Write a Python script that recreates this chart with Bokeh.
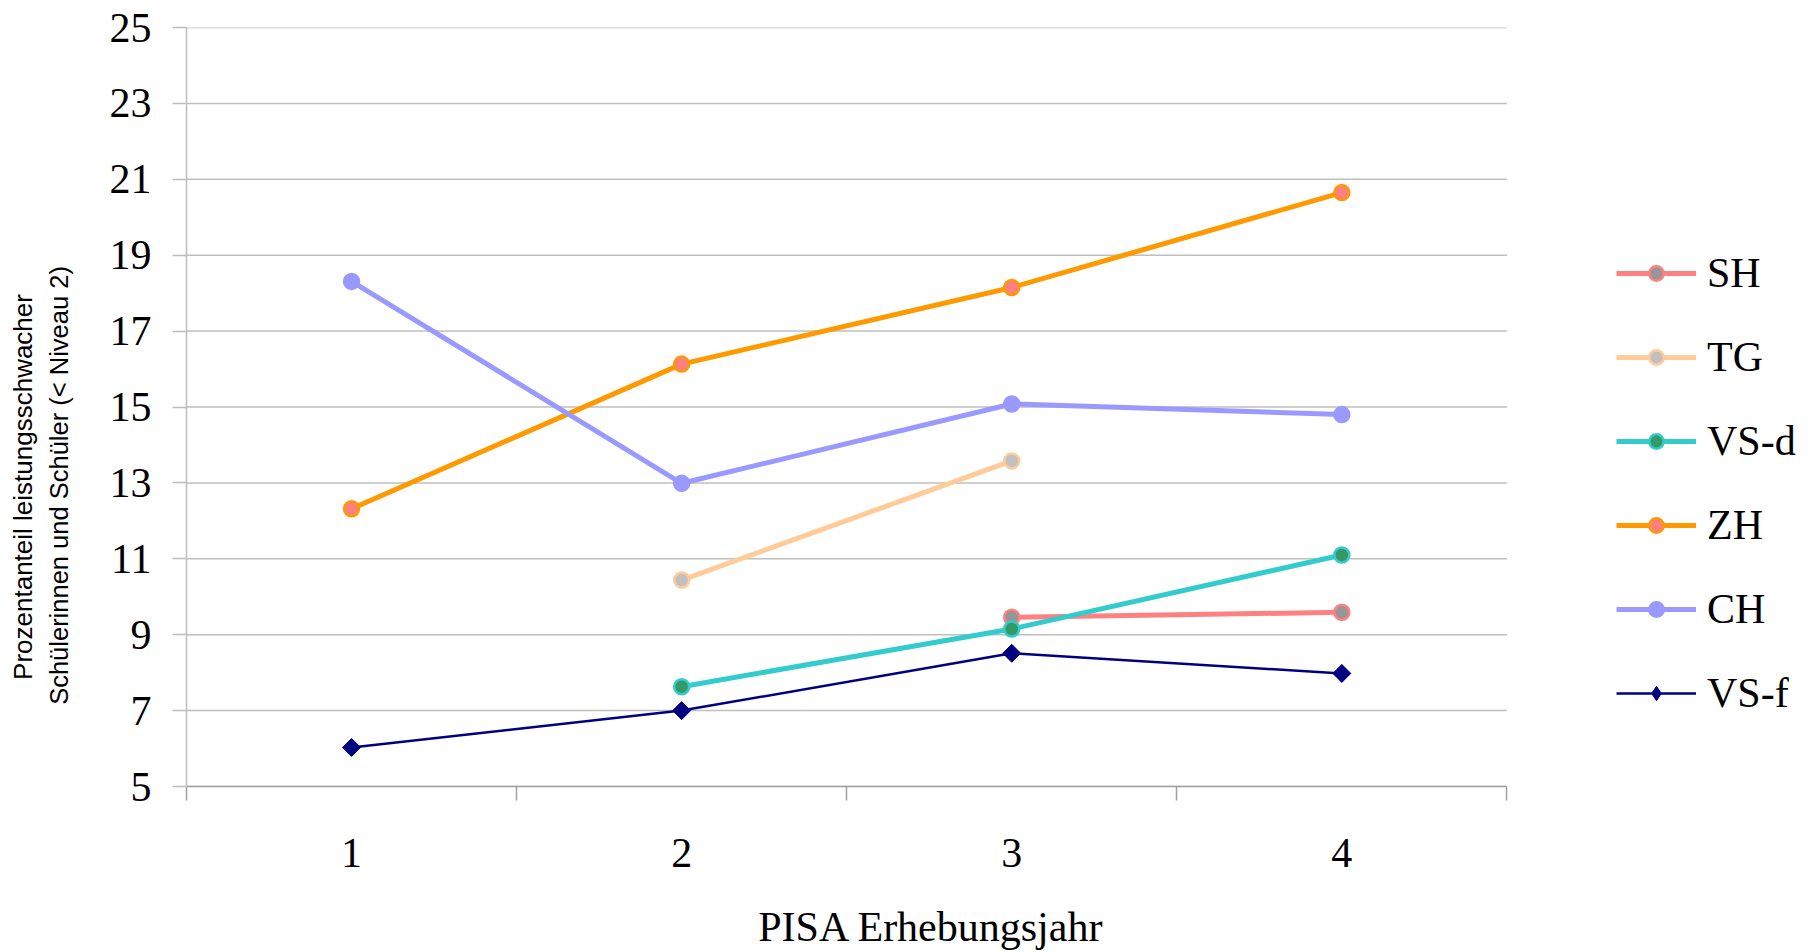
import math
from bokeh.plotting import figure
from bokeh.models import (Range1d, FixedTicker, Legend, LegendItem, LinearAxis,
                          CustomJSTickFormatter, ColumnDataSource)
from bokeh.embed import file_html
from bokeh.resources import INLINE

nan = float("nan")

# ---- data ----
years = [1, 2, 3, 4]
x_tick_labels = ["1", "2", "3", "4"]
y_ticks = [5, 7, 9, 11, 13, 15, 17, 19, 21, 23, 25]
series_names = ["SH", "TG", "VS-d", "ZH", "CH", "VS-f"]
sh = [nan, nan, 9.46, 9.59]
tg = [nan, 10.44, 13.58, nan]
vs_d = [nan, 7.63, 9.15, 11.10]
zh = [12.32, 16.13, 18.15, 20.65]
ch = [18.31, 12.99, 15.08, 14.80]
vs_f = [6.03, 7.00, 8.51, 7.98]

x_title = "PISA Erhebungsjahr"
y_title_1 = "Prozentanteil leistungsschwacher"
y_title_2 = "Schülerinnen und Schüler (< Niveau 2)"

SERIF = "Liberation Serif"
SANS = "Liberation Sans"

# ---- layout (pixels) ----
W, H = 1810, 952
LEFT, TOP, BOTTOM = 186, 27, 166
UNIT = 330.1                      # px per category
X0, X1 = 0.5, 4.5                 # category extent
x_end = X0 + (W - LEFT) / UNIT    # frame extends under the legend

p = figure(width=W, height=H, output_backend="svg", toolbar_location=None,
           x_range=Range1d(X0, x_end), y_range=Range1d(5, 25),
           min_border_left=LEFT, min_border_top=TOP,
           min_border_right=0, min_border_bottom=BOTTOM)
p.outline_line_color = None
p.background_fill_color = "white"
p.border_fill_color = "white"
p.xgrid.visible = False
p.ygrid.visible = False

# horizontal grid lines limited to the category area
gsrc = ColumnDataSource(dict(x0=[X0] * len(y_ticks), x1=[X1] * len(y_ticks),
                             y=y_ticks))
p.segment(x0="x0", y0="y", x1="x1", y1="y", source=gsrc,
          line_color="#BFBFBF", line_width=1.5)

# main y axis
ya = p.yaxis[0]
ya.ticker = FixedTicker(ticks=y_ticks, minor_ticks=[])
ya.axis_line_color = "#BDBDBD"
ya.axis_line_width = 1.5
ya.major_tick_line_color = "#BDBDBD"
ya.major_tick_line_width = 1.5
ya.major_tick_out = 14
ya.major_tick_in = 0
ya.minor_tick_line_color = None
ya.major_label_standoff = 21
ya.major_label_text_font = SERIF
ya.major_label_text_font_size = "42px"
ya.major_label_text_color = "black"

# main x axis
xa = p.xaxis[0]
xa.bounds = (X0, X1)
xa.ticker = FixedTicker(ticks=years, minor_ticks=[0.5, 1.5, 2.5, 3.5, 4.5])
xa.major_label_overrides = {y: l for y, l in zip(years, x_tick_labels)}
xa.axis_line_color = "#A0A0A0"
xa.axis_line_width = 1.5
xa.major_tick_line_color = None
xa.major_tick_out = 0
xa.major_tick_in = 0
xa.minor_tick_line_color = "#A0A0A0"
xa.minor_tick_line_width = 1.5
xa.minor_tick_out = 14
xa.minor_tick_in = 0
xa.major_label_standoff = 38
xa.major_label_text_font = SERIF
xa.major_label_text_font_size = "42px"
xa.major_label_text_color = "black"


def title_axis(text, pos, font, size, standoff, orientation):
    ax = LinearAxis(ticker=FixedTicker(ticks=[pos], minor_ticks=[]),
                    formatter=CustomJSTickFormatter(args=dict(t=text), code="return t"))
    ax.axis_line_color = None
    ax.major_tick_line_color = None
    ax.minor_tick_line_color = None
    ax.major_tick_out = 0
    ax.major_tick_in = 0
    ax.major_label_standoff = standoff
    ax.major_label_orientation = orientation
    ax.major_label_text_font = font
    ax.major_label_text_font_size = size
    ax.major_label_text_color = "black"
    return ax


# x title (centre at 931 px)
p.add_layout(title_axis(x_title, X0 + (931 - LEFT) / UNIT, SERIF, "42px", 34,
                        "horizontal"), "below")
# y titles (two lines, centred near 485 px)
px_per_y = (786 - TOP) / 20.0
p.add_layout(title_axis(y_title_2, 5 + (786 - 485) / px_per_y, SANS, "25.5px", 34,
                        "parallel"), "left")
p.add_layout(title_axis(y_title_1, 5 + (786 - 486.5) / px_per_y, SANS, "26px", 4,
                        "parallel"), "left")

# series
styles = {
    "SH": dict(line="#FF8080", fill="#969696", width=5, size=15),
    "TG": dict(line="#FFCC99", fill="#C0C0C0", width=5, size=15),
    "VS-d": dict(line="#33CCCC", fill="#339966", width=5, size=15),
    "ZH": dict(line="#FF9900", fill="#FF8080", width=5, size=15),
    "CH": dict(line="#9999FF", fill="#9999FF", width=5, size=15),
    "VS-f": dict(line="#000080", fill="#000080", width=2.5, size=12.7),
}
data = {"SH": sh, "TG": tg, "VS-d": vs_d, "ZH": zh, "CH": ch, "VS-f": vs_f}

items = []
for name in series_names:
    st = styles[name]
    src = ColumnDataSource(dict(x=years, y=data[name]))
    lr = p.line("x", "y", source=src, line_color=st["line"], line_width=st["width"])
    if name == "VS-f":
        # diamond for the legend, covered in the plot by a square turned 45 degrees
        sr = p.scatter("x", "y", source=src, marker="diamond", size=17,
                       fill_color=st["fill"], line_color=st["line"], line_width=1)
        p.scatter("x", "y", source=src, marker="square", size=st["size"],
                  angle=math.pi / 4, fill_color=st["fill"],
                  line_color=st["line"], line_width=1)
    else:
        sr = p.scatter("x", "y", source=src, marker="circle", size=st["size"],
                       fill_color=st["fill"], line_color=st["line"], line_width=2.5)
    items.append(LegendItem(label=name, renderers=[lr, sr]))

legend = Legend(items=items, location=(1430, 69), orientation="vertical",
                glyph_width=80, glyph_height=36, label_height=40, spacing=36,
                label_standoff=11, padding=0, margin=0,
                border_line_color=None, background_fill_alpha=0,
                label_text_font=SERIF, label_text_font_size="42px",
                label_text_color="black")
p.add_layout(legend)

open("out.html", "w").write(file_html(p, INLINE))
